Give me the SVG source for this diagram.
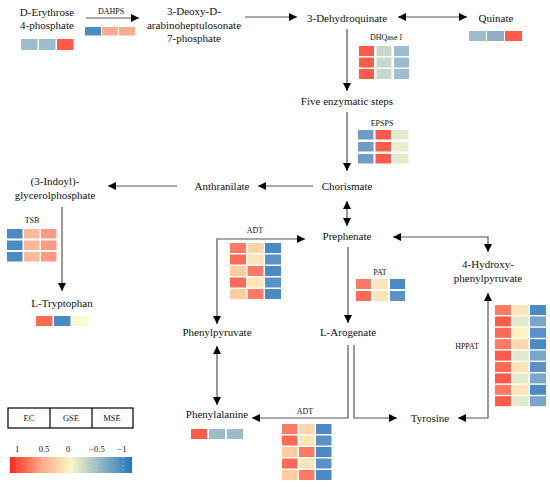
<svg xmlns="http://www.w3.org/2000/svg" width="550" height="487" viewBox="0 0 550 487" font-family="'Liberation Serif', 'Times New Roman', serif">
<defs>
<marker id="ah" viewBox="0 0 10 10" refX="10" refY="5" markerWidth="9" markerHeight="8" markerUnits="userSpaceOnUse" orient="auto-start-reverse">
<path d="M0,0 L10,5 L0,10 z" fill="#000"/>
</marker>
<linearGradient id="grad" x1="0" x2="1" y1="0" y2="0">
<stop offset="0" stop-color="#ff2a1a"/>
<stop offset="0.25" stop-color="#ffa585"/>
<stop offset="0.5" stop-color="#f8f8c4"/>
<stop offset="0.75" stop-color="#8fb4c6"/>
<stop offset="1" stop-color="#2676bd"/>
</linearGradient>
</defs>
<style>
text{font-family:'Liberation Serif','Times New Roman',serif;fill:#111}
.n{font-size:11px;text-anchor:middle}
.s{font-size:8px;text-anchor:middle}
.l{font-size:8.5px;text-anchor:middle}
.e{fill:none;stroke:#555;stroke-width:1.2}
.a{marker-end:url(#ah)}
.d{marker-start:url(#ah);marker-end:url(#ah)}
.R1{fill:#ff5a4a}.R2{fill:#ff6a55}.R3{fill:#ff7a66}.S1{fill:#ffab8e}.S2{fill:#ffb898}.S3{fill:#ff9a80}
.P1{fill:#ffcc9e}.P2{fill:#ffd6aa}.P3{fill:#ffe4b6}.Y{fill:#fff1c2}.Y2{fill:#fafacc}
.G1{fill:#c6d8cc}.G2{fill:#e2eacc}.G3{fill:#e6eecb}
.B1{fill:#4a8bc4}.B2{fill:#5a92c8}.B3{fill:#7aa6c8}.B4{fill:#9dbccf}.B5{fill:#9bbccb}.B6{fill:#8fb0c8}.B7{fill:#6e9dc7}
</style>

<g id="connectors">
<line class="e a" x1="86" y1="18" x2="139" y2="18"/>
<line class="e a" x1="245" y1="17" x2="297" y2="17"/>
<line class="e d" x1="398" y1="17" x2="467" y2="17"/>
<line class="e a" x1="347" y1="29" x2="347" y2="91"/>
<line class="e a" x1="347" y1="112" x2="347" y2="171"/>
<line class="e a" x1="313" y1="186" x2="258" y2="186"/>
<line class="e a" x1="177" y1="186" x2="108" y2="186"/>
<line class="e a" x1="62" y1="207" x2="62" y2="291"/>
<line class="e d" x1="347" y1="201" x2="347" y2="226"/>
<polyline class="e d" points="217,324 217,239 305,239"/>
<polyline class="e d" points="393,237 488,237 488,252"/>
<line class="e a" x1="348" y1="247" x2="348" y2="323"/>
<line class="e d" x1="217" y1="346" x2="217" y2="405"/>
<polyline class="e a" points="348,345 348,418 252,418"/>
<polyline class="e a" points="354,345 354,418 397,418"/>
<polyline class="e d" points="458,418 488,418 488,293"/>
</g>

<g id="n-erythrose">
<text class="n" x="47" y="16">D-Erythrose</text>
<text class="n" x="47" y="29">4-phosphate</text>
<rect class="B5" x="21" y="39" width="16.5" height="11"/><rect class="B5" x="39" y="39" width="16.5" height="11"/><rect class="R1" x="57" y="39" width="16.5" height="11"/>
</g>
<g id="e-dahps">
<text class="s" x="111" y="14">DAHPS</text>
<rect class="B1" x="85" y="27" width="16" height="8.5"/><rect class="S1" x="102" y="27" width="16" height="8.5"/><rect class="S1" x="119" y="27" width="16" height="8.5"/>
</g>
<g id="n-deoxy">
<text class="n" x="194" y="15">3-Deoxy-D-</text>
<text class="n" x="194" y="29">arabinoheptulosonate</text>
<text class="n" x="194" y="42">7-phosphate</text>
</g>
<g id="n-dehydroquinate"><text class="n" x="347" y="22">3-Dehydroquinate</text></g>
<g id="n-quinate">
<text class="n" x="496" y="22">Quinate</text>
<rect class="B5" x="469" y="31" width="17" height="10"/><rect class="B6" x="487" y="31" width="17" height="10"/><rect class="R1" x="505" y="31" width="17" height="10"/>
</g>
<g id="e-dhqase">
<text class="s" x="386" y="40">DHQase I</text>
<g transform="translate(359,46)">
<rect class="R1" x="0" y="0" width="15" height="10"/><rect class="G1" x="17.5" y="0" width="15" height="10"/><rect class="B4" x="35" y="0" width="15" height="10"/>
<rect class="R1" x="0" y="11.5" width="15" height="10"/><rect class="G1" x="17.5" y="11.5" width="15" height="10"/><rect class="B4" x="35" y="11.5" width="15" height="10"/>
<rect class="R1" x="0" y="23" width="15" height="10"/><rect class="G1" x="17.5" y="23" width="15" height="10"/><rect class="B4" x="35" y="23" width="15" height="10"/>
</g>
</g>
<g id="n-five"><text class="n" x="347" y="105">Five enzymatic steps</text></g>
<g id="e-epsps">
<text class="s" x="382" y="126">EPSPS</text>
<g transform="translate(358,130)">
<rect class="B7" x="0" y="0" width="15.5" height="9.5"/><rect class="R1" x="17.5" y="0" width="15.5" height="9.5"/><rect class="G2" x="35" y="0" width="15.5" height="9.5"/>
<rect class="B7" x="0" y="12" width="15.5" height="9.5"/><rect class="R1" x="17.5" y="12" width="15.5" height="9.5"/><rect class="G3" x="35" y="12" width="15.5" height="9.5"/>
<rect class="B7" x="0" y="24" width="15.5" height="9.5"/><rect class="R1" x="17.5" y="24" width="15.5" height="9.5"/><rect class="G2" x="35" y="24" width="15.5" height="9.5"/>
</g>
</g>
<g id="n-chorismate"><text class="n" x="347" y="190">Chorismate</text></g>
<g id="n-anthranilate"><text class="n" x="222" y="190">Anthranilate</text></g>
<g id="n-indoyl">
<text class="n" x="55" y="185">(3-Indoyl)-</text>
<text class="n" x="55" y="199">glycerolphosphate</text>
</g>
<g id="e-tsb">
<text class="s" x="32" y="223">TSB</text>
<g transform="translate(7,229)">
<rect class="B1" x="0" y="0" width="15.5" height="9.5"/><rect class="S2" x="17" y="0" width="15.5" height="9.5"/><rect class="S3" x="34" y="0" width="15.5" height="9.5"/>
<rect class="B1" x="0" y="11.5" width="15.5" height="9.5"/><rect class="S2" x="17" y="11.5" width="15.5" height="9.5"/><rect class="S3" x="34" y="11.5" width="15.5" height="9.5"/>
<rect class="B1" x="0" y="23" width="15.5" height="9.5"/><rect class="S2" x="17" y="23" width="15.5" height="9.5"/><rect class="S3" x="34" y="23" width="15.5" height="9.5"/>
</g>
</g>
<g id="n-tryptophan">
<text class="n" x="62" y="307">L-Tryptophan</text>
<rect class="R2" x="36" y="316" width="16.5" height="10"/><rect class="B1" x="54" y="316" width="16.5" height="10"/><rect class="Y2" x="72" y="316" width="16.5" height="10"/>
</g>
<g id="n-prephenate"><text class="n" x="347" y="240">Prephenate</text></g>
<g id="e-adt1">
<text class="s" x="255" y="233">ADT</text>
<g transform="translate(230,243)">
<rect class="R3" x="0" y="0" width="16" height="10"/><rect class="P2" x="17.5" y="0" width="16" height="10"/><rect class="B1" x="35" y="0" width="16" height="10"/>
<rect class="R2" x="0" y="11.5" width="16" height="10"/><rect class="P3" x="17.5" y="11.5" width="16" height="10"/><rect class="B2" x="35" y="11.5" width="16" height="10"/>
<rect class="P1" x="0" y="23" width="16" height="10"/><rect class="R3" x="17.5" y="23" width="16" height="10"/><rect class="B1" x="35" y="23" width="16" height="10"/>
<rect class="R2" x="0" y="34.5" width="16" height="10"/><rect class="P3" x="17.5" y="34.5" width="16" height="10"/><rect class="B2" x="35" y="34.5" width="16" height="10"/>
<rect class="P1" x="0" y="46" width="16" height="10"/><rect class="R3" x="17.5" y="46" width="16" height="10"/><rect class="B1" x="35" y="46" width="16" height="10"/>
</g>
</g>
<g id="n-hpp">
<text class="n" x="488" y="268">4-Hydroxy-</text>
<text class="n" x="488" y="282">phenylpyruvate</text>
</g>
<g id="e-pat">
<text class="s" x="380" y="275">PAT</text>
<g transform="translate(356,279)">
<rect class="R3" x="0" y="0" width="15" height="10"/><rect class="P3" x="17" y="0" width="15" height="10"/><rect class="B1" x="34" y="0" width="15" height="10"/>
<rect class="R2" x="0" y="12" width="15" height="10"/><rect class="P3" x="17" y="12" width="15" height="10"/><rect class="B2" x="34" y="12" width="15" height="10"/>
</g>
</g>
<g id="n-phenylpyruvate"><text class="n" x="217" y="336">Phenylpyruvate</text></g>
<g id="n-arogenate"><text class="n" x="348" y="336">L-Arogenate</text></g>
<g id="e-hppat">
<text class="s" x="467" y="349">HPPAT</text>
<g transform="translate(495,305)">
<rect class="R3" x="0" y="0" width="16" height="10"/><rect class="P3" x="17.5" y="0" width="16" height="10"/><rect class="B1" x="35" y="0" width="16" height="10"/>
<rect class="R1" x="0" y="11.4" width="16" height="10"/><rect class="G2" x="17.5" y="11.4" width="16" height="10"/><rect class="B3" x="35" y="11.4" width="16" height="10"/>
<rect class="R2" x="0" y="22.8" width="16" height="10"/><rect class="Y" x="17.5" y="22.8" width="16" height="10"/><rect class="B2" x="35" y="22.8" width="16" height="10"/>
<rect class="R3" x="0" y="34.2" width="16" height="10"/><rect class="P2" x="17.5" y="34.2" width="16" height="10"/><rect class="B1" x="35" y="34.2" width="16" height="10"/>
<rect class="R1" x="0" y="45.6" width="16" height="10"/><rect class="G2" x="17.5" y="45.6" width="16" height="10"/><rect class="B3" x="35" y="45.6" width="16" height="10"/>
<rect class="R2" x="0" y="57" width="16" height="10"/><rect class="P3" x="17.5" y="57" width="16" height="10"/><rect class="B2" x="35" y="57" width="16" height="10"/>
<rect class="R1" x="0" y="68.4" width="16" height="10"/><rect class="G2" x="17.5" y="68.4" width="16" height="10"/><rect class="B3" x="35" y="68.4" width="16" height="10"/>
<rect class="R3" x="0" y="79.8" width="16" height="10"/><rect class="P3" x="17.5" y="79.8" width="16" height="10"/><rect class="B1" x="35" y="79.8" width="16" height="10"/>
<rect class="R1" x="0" y="91.2" width="16" height="10"/><rect class="G2" x="17.5" y="91.2" width="16" height="10"/><rect class="B3" x="35" y="91.2" width="16" height="10"/>
</g>
</g>
<g id="n-phenylalanine">
<text class="n" x="217" y="418">Phenylalanine</text>
<rect class="R1" x="191" y="429" width="16" height="10"/><rect class="B5" x="209" y="429" width="16" height="10"/><rect class="B5" x="227" y="429" width="16" height="10"/>
</g>
<g id="n-tyrosine"><text class="n" x="430" y="422">Tyrosine</text></g>
<g id="e-adt2">
<text class="s" x="305" y="414">ADT</text>
<g transform="translate(282,424)">
<rect class="R3" x="0" y="0" width="15.5" height="10"/><rect class="P2" x="17" y="0" width="15.5" height="10"/><rect class="B1" x="34" y="0" width="15.5" height="10"/>
<rect class="R2" x="0" y="11.5" width="15.5" height="10"/><rect class="P3" x="17" y="11.5" width="15.5" height="10"/><rect class="B2" x="34" y="11.5" width="15.5" height="10"/>
<rect class="P1" x="0" y="23" width="15.5" height="10"/><rect class="R3" x="17" y="23" width="15.5" height="10"/><rect class="B1" x="34" y="23" width="15.5" height="10"/>
<rect class="R2" x="0" y="34.5" width="15.5" height="10"/><rect class="P3" x="17" y="34.5" width="15.5" height="10"/><rect class="B2" x="34" y="34.5" width="15.5" height="10"/>
<rect class="P1" x="0" y="46" width="15.5" height="10"/><rect class="R3" x="17" y="46" width="15.5" height="10"/><rect class="B1" x="34" y="46" width="15.5" height="10"/>
</g>
</g>

<g id="legend">
<rect x="8" y="408" width="125" height="20" fill="#fff" stroke="#000" stroke-width="1.2"/>
<line x1="50" y1="408" x2="50" y2="428" stroke="#000" stroke-width="1.2"/>
<line x1="92" y1="408" x2="92" y2="428" stroke="#000" stroke-width="1.2"/>
<text class="l" x="29" y="421">EC</text>
<text class="l" x="71" y="421">GSE</text>
<text class="l" x="112" y="421">MSE</text>
<text class="l" x="17" y="452">1</text>
<text class="l" x="44" y="452">0.5</text>
<text class="l" x="68" y="452">0</text>
<text class="l" x="97" y="452">−0.5</text>
<text class="l" x="122" y="452">−1</text>
<rect x="10" y="457" width="122" height="16" fill="url(#grad)"/>
<g stroke="#fff" stroke-width="0.6" stroke-dasharray="1.5,2.5" opacity="0.7">
<line x1="17" y1="457" x2="17" y2="473"/><line x1="43" y1="457" x2="43" y2="473"/><line x1="69" y1="457" x2="69" y2="473"/><line x1="96" y1="457" x2="96" y2="473"/><line x1="123" y1="457" x2="123" y2="473"/>
</g>
</g>
</svg>
